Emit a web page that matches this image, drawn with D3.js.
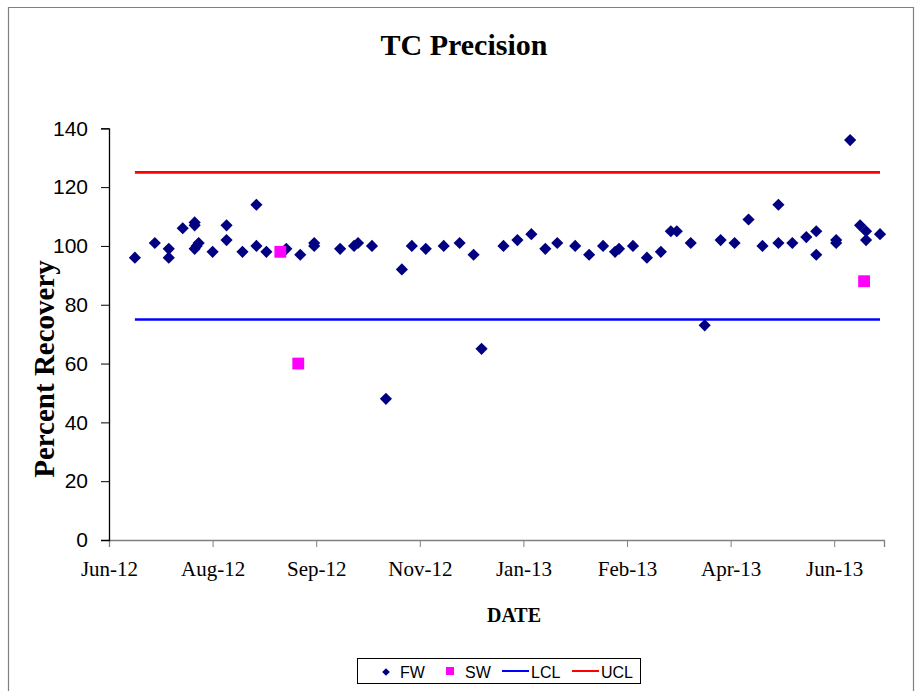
<!DOCTYPE html>
<html>
<head>
<meta charset="utf-8">
<script src="https://cdn.jsdelivr.net/npm/d3@7"></script>
<style>
  body { margin: 0; background: #fff; }
</style>
</head>
<body>
<div id="chart-area"></div>
<script>
const WIDTH = 916;
const HEIGHT = 691;

// FW samples (date, percent recovery)
const fwDates = [
  "2012-06-23","2012-07-03","2012-07-10","2012-07-10","2012-07-17","2012-07-23","2012-07-23","2012-07-23","2012-07-25","2012-07-24",
  "2012-08-01","2012-08-08","2012-08-08","2012-08-16","2012-08-23","2012-08-23","2012-08-28","2012-09-07","2012-09-14","2012-09-21",
  "2012-09-21","2012-10-04","2012-10-11","2012-10-13","2012-10-20","2012-10-27","2012-11-04","2012-11-09","2012-11-16","2012-11-25",
  "2012-12-03","2012-12-10","2012-12-14","2012-12-25","2013-01-01","2013-01-08","2013-01-15","2013-01-21","2013-01-30","2013-02-06",
  "2013-02-13","2013-02-19","2013-02-21","2013-02-28","2013-03-07","2013-03-14","2013-03-19","2013-03-22","2013-03-29","2013-04-05",
  "2013-04-13","2013-04-20","2013-04-27","2013-05-04","2013-05-12","2013-05-12","2013-05-19","2013-05-26","2013-05-31","2013-05-31",
  "2013-06-10","2013-06-10","2013-06-17","2013-06-22","2013-06-25","2013-06-25","2013-07-02"
];
const fwValues = [
  96,101,99,96,106,108,107,99,101,100,
  98,107,102,98,114,100,98,99,97,101,
  100,99,100,101,100,48,92,100,99,100,
  101,97,65,100,102,104,99,101,100,97,
  100,98,99,100,96,98,105,105,101,73,
  102,101,109,100,114,101,101,103,105,97,
  102,101,136,107,105,102,104
];

// SW samples
const swDates = ["2012-09-04", "2012-09-13", "2013-06-24"];
const swValues = [98, 60, 88];

// control limits
const limitDates = ["2012-06-23", "2013-07-02"];
const lclValues = [75, 75];
const uclValues = [125, 125];

// axes
const xDomain = ["2012-06-10", "2013-07-04"];
const xTickDates = ["2012-06-10","2012-08-01","2012-09-22","2012-11-13","2013-01-04","2013-02-25","2013-04-18","2013-06-09"];
const yTicks = [0, 20, 40, 60, 80, 100, 120, 140];

const parse = d3.utcParse("%Y-%m-%d");
const serif = "'Liberation Serif', 'DejaVu Serif', serif";
const sans = "'Liberation Sans', Arial, sans-serif";

const x = d3.scaleUtc()
    .domain(xDomain.map(parse))
    .range([109, 884]);

const y = d3.scaleLinear()
    .domain([0, 140])
    .range([540, 128.3]);

const svg = d3.select('#chart-area').append('svg')
    .attr("width", WIDTH)
    .attr("height", HEIGHT)
    .style("display", "block");

svg.append("rect")
    .attr("width", WIDTH).attr("height", HEIGHT)
    .attr("fill", "#fff");

// outer chart frame (bottom edge runs off the picture)
svg.append("path")
    .attr("d", `M8.5,${HEIGHT + 2}V7.5H913.5V${HEIGHT + 2}`)
    .attr("fill", "none")
    .attr("stroke", "#808080")
    .attr("stroke-width", 1.2);

// title
svg.append("text")
    .attr("x", 464).attr("y", 55)
    .attr("text-anchor", "middle")
    .style("font", `bold 30px ${serif}`)
    .text("TC Precision");

// x axis
const xAxis = svg.append("g")
    .attr("transform", `translate(0,${y(0)})`)
    .call(d3.axisBottom(x)
        .tickValues(xTickDates.map(parse))
        .tickFormat(d3.utcFormat("%b-%y"))
        .tickSizeOuter(0)
        .tickSize(7)
        .tickPadding(14));
xAxis.select(".domain").attr("stroke", "#808080").attr("stroke-width", 1.3);
xAxis.selectAll(".tick line").attr("stroke", "#808080");
xAxis.selectAll("text")
    .attr("fill", "#000")
    .style("font", `21px ${serif}`);

// y axis
const yAxis = svg.append("g")
    .attr("transform", `translate(109,0)`)
    .call(d3.axisLeft(y)
        .tickValues(yTicks)
        .tickSizeOuter(0)
        .tickSize(8)
        .tickPadding(13));
yAxis.select(".domain").attr("stroke", "#000").attr("stroke-width", 1.3);
yAxis.selectAll("text")
    .attr("fill", "#000")
    .style("font", `21px ${sans}`);

// axis titles
svg.append("text")
    .attr("x", 514).attr("y", 622)
    .attr("text-anchor", "middle")
    .style("font", `bold 20px ${serif}`)
    .text("DATE");

svg.append("text")
    .attr("transform", "translate(54,369) rotate(-90)")
    .attr("text-anchor", "middle")
    .style("font", `bold 29px ${serif}`)
    .text("Percent Recovery");

// control limit lines
const line = d3.line()
    .x(d => x(d[0]))
    .y(d => y(d[1]));

const limits = [
  {name: "LCL", color: "#0000FF", values: lclValues},
  {name: "UCL", color: "#FF0000", values: uclValues}
];

svg.append("g")
    .selectAll("path")
    .data(limits)
    .join("path")
    .attr("fill", "none")
    .attr("stroke", d => d.color)
    .attr("stroke-width", 2.6)
    .attr("d", d => line(limitDates.map((t, i) => [parse(t), d.values[i]])));

// FW diamonds
const diamond = d3.symbol(d3.symbolSquare, 74);
const fw = fwDates.map((t, i) => ({date: parse(t), value: fwValues[i]}));

svg.append("g")
    .selectAll("path")
    .data(fw)
    .join("path")
    .attr("transform", d => `translate(${x(d.date)},${y(d.value)}) rotate(45)`)
    .attr("d", diamond)
    .attr("fill", "#000080");

// SW squares
const square = d3.symbol(d3.symbolSquare, 140);
const sw = swDates.map((t, i) => ({date: parse(t), value: swValues[i]}));

svg.append("g")
    .selectAll("path")
    .data(sw)
    .join("path")
    .attr("transform", d => `translate(${x(d.date)},${y(d.value)})`)
    .attr("d", square)
    .attr("fill", "#FF00FF");

// legend
const legend = svg.append("g");
legend.append("rect")
    .attr("x", 357.5).attr("y", 658.5)
    .attr("width", 283).attr("height", 25)
    .attr("fill", "#fff")
    .attr("stroke", "#000")
    .attr("stroke-width", 1);

const legY = 672;
legend.append("path")
    .attr("transform", `translate(386,${legY}) rotate(45)`)
    .attr("d", d3.symbol(d3.symbolSquare, 30))
    .attr("fill", "#000080");
legend.append("path")
    .attr("transform", `translate(450,${legY - 1})`)
    .attr("d", d3.symbol(d3.symbolSquare, 64))
    .attr("fill", "#FF00FF");

const legItems = [
  {label: "FW", x: 400},
  {label: "SW", x: 465},
  {label: "LCL", x: 531},
  {label: "UCL", x: 601}
];
legend.selectAll("text")
    .data(legItems)
    .join("text")
    .attr("x", d => d.x)
    .attr("y", legY + 6)
    .style("font", `16px ${sans}`)
    .text(d => d.label);

legend.selectAll("line")
    .data(limits)
    .join("line")
    .attr("x1", (d, i) => i === 0 ? 502 : 572)
    .attr("x2", (d, i) => i === 0 ? 529 : 599)
    .attr("y1", legY - 1).attr("y2", legY - 1)
    .attr("stroke", d => d.color)
    .attr("stroke-width", 2);
</script>
</body>
</html>
